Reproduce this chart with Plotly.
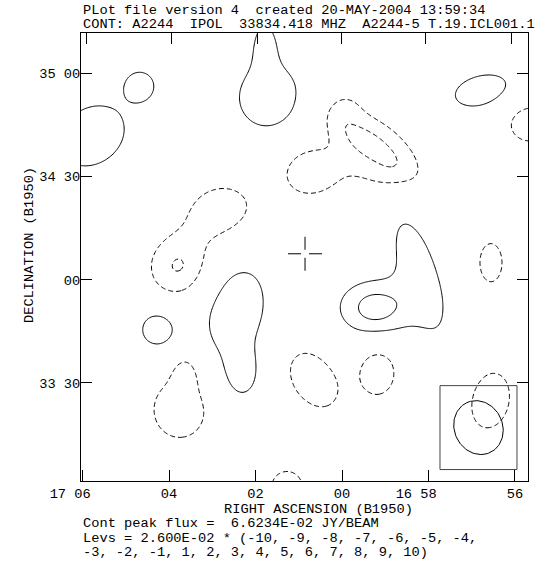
import numpy as np
import plotly.graph_objects as go

# ---------------- data ----------------
# Map axes: RA in seconds of time after 17h00m00s, Dec in arcsec after +34d00m00s (B1950)
RA_SCALE = 12.56          # sky arcsec per second of RA at this declination

# Gaussian components of the intensity model
comp_ra   = [5.780, 4.671, 1.642, 1.780, -3.191, -4.347,
             -0.694, -0.578, -0.023, 0.855, -1.110,
             2.821, 3.792, 4.277, 2.451, 2.312, 3.746, 3.607, 0.671, -0.832,
             -3.445, 1.272, -3.422, -0.763, -1.711]
comp_dec  = [41.82, 56.35, 52.86, 69.71, 54.89, 45.31,
             38.92, 36.60, 49.96, 31.37, 29.63,
             19.46, 3.49, -14.52, -9.29, -27.59, -37.76, -26.72, -29.04, -27.01,
             4.94, -60.12, -35.14, -8.13, 4.65]
comp_amp  = [0.050, 0.045, 0.0429, 0.028, 0.0429, -0.0429,
             -0.042, -0.030, -0.016, -0.032, -0.015,
             -0.040, -0.0525, 0.0429, 0.0429, 0.035, -0.0429, -0.028, -0.0429, -0.0429,
             -0.0429, -0.0429, -0.0429, 0.064, 0.042]
comp_smaj = [8.71, 3.63, 9.29, 5.81, 8.13, 5.52,
             9.58, 13.94, 3.78, 5.23, 4.36,
             9.29, 6.39, 4.36, 12.78, 5.23, 8.13, 4.07, 8.71, 6.10,
             5.52, 4.36, 8.13, 7.55, 18.0]
comp_smin = [6.97, 3.63, 9.29, 3.19, 4.36, 4.94,
             3.48, 13.94, 3.78, 5.23, 4.36,
             7.55, 6.39, 4.21, 7.84, 3.48, 7.55, 2.90, 5.81, 4.65,
             3.19, 4.36, 5.52, 5.81, 5.10]
comp_ang  = [36, 0, 90, 90, 15, 0,
             -35, 0, 0, 0, 0,
             20, 0, 90, 80, 90, 90, 90, -55, 90,
             90, 0, 78, 0, -72]

lev_base = 2.600E-02
lev_mult = [-10, -9, -8, -7, -6, -5, -4, -3, -2, -1, 1, 2, 3, 4, 5, 6, 7, 8, 9, 10]

ra_ticks      = [6, 4, 2, 0, -2, -4]
ra_ticks_top  = [5.919, 3.954, 1.965, 0.023, -1.942, -3.908]
ra_ticktext   = ["17 06", "04", "02", "00", "16 58", "56"]
dec_ticks     = [60, 30, 0, -30]
dec_ticktext  = ["35 00", "34 30", "00", "33 30"]

x_range = [6.035, -4.301]
y_range = [-58.52, 71.74]

cross_ra, cross_dec = 0.855, 7.55
cross_arm, cross_gap = 4.94, 1.16      # arcsec

beam_ra, beam_dec = -3.156, -42.99
beam_maj, beam_min, beam_pa = 16.0, 14.0, 25.0   # arcsec FWHM, deg (E of N)
box_half_w, box_half_h = 11.18, 12.2              # arcsec

title1 = "PLot file version 4  created 20-MAY-2004 13:59:34"
title2 = "CONT: A2244  IPOL  33834.418 MHZ  A2244-5 T.19.ICL001.1"
xlab = "RIGHT ASCENSION (B1950)"
ylab = "DECLINATION (B1950)"
foot1 = "Cont peak flux =  6.6234E-02 JY/BEAM"
foot2 = "Levs = 2.600E-02 * (-10, -9, -8, -7, -6, -5, -4,"
foot3 = "-3, -2, -1, 1, 2, 3, 4, 5, 6, 7, 8, 9, 10)"

# ---------------- model field ----------------
ra_grid = np.linspace(-5.0, 6.6, 480)
dec_grid = np.linspace(-68, 82, 480)
RA, DEC = np.meshgrid(ra_grid, dec_grid)
Z = np.zeros_like(RA)
for r0, d0, A, sa, sb, ang in zip(comp_ra, comp_dec, comp_amp, comp_smaj, comp_smin, comp_ang):
    u = -(RA - r0) * RA_SCALE
    v = DEC - d0
    t = np.radians(ang)
    a = u * np.cos(t) + v * np.sin(t)
    b = -u * np.sin(t) + v * np.cos(t)
    Z += A * np.exp(-0.5 * ((a / sa) ** 2 + (b / sb) ** 2))

pos = [m * lev_base for m in lev_mult if m > 0]
neg = [m * lev_base for m in lev_mult if m < 0]

FONT = "Liberation Mono, Courier New, monospace"
FS = 13.7

fig = go.Figure()
fig.add_trace(go.Contour(
    x=ra_grid, y=dec_grid, z=Z, autocontour=False, showscale=False,
    contours=dict(start=min(pos), end=max(pos) + 1e-6, size=lev_base, coloring="none"),
    line=dict(color="black", width=1), hoverinfo="skip"))
fig.add_trace(go.Contour(
    x=ra_grid, y=dec_grid, z=Z, autocontour=False, showscale=False,
    contours=dict(start=min(neg), end=max(neg) + 1e-6, size=lev_base, coloring="none"),
    line=dict(color="black", width=1, dash="5px,3px"), hoverinfo="skip"))

# cross marker
cx = [cross_ra + cross_arm / RA_SCALE, cross_ra + cross_gap / RA_SCALE, None,
      cross_ra - cross_gap / RA_SCALE, cross_ra - cross_arm / RA_SCALE, None,
      cross_ra, cross_ra, None, cross_ra, cross_ra]
cy = [cross_dec, cross_dec, None, cross_dec, cross_dec, None,
      cross_dec + cross_arm, cross_dec + cross_gap, None,
      cross_dec - cross_gap, cross_dec - cross_arm]
fig.add_trace(go.Scatter(x=cx, y=cy, mode="lines", line=dict(color="black", width=1),
                         hoverinfo="skip"))

# beam ellipse
tt = np.linspace(0, 2 * np.pi, 120)
pa = np.radians(beam_pa)
ma, mi = beam_maj / 2, beam_min / 2
eu = ma * np.cos(tt) * (-np.sin(pa)) + mi * np.sin(tt) * (-np.cos(pa))
ev = ma * np.cos(tt) * np.cos(pa) + mi * np.sin(tt) * (-np.sin(pa))
fig.add_trace(go.Scatter(x=beam_ra - eu / RA_SCALE, y=beam_dec + ev, mode="lines",
                         line=dict(color="black", width=1), hoverinfo="skip"))
fig.add_shape(type="rect", xref="x", yref="y",
              x0=beam_ra + box_half_w / RA_SCALE, x1=beam_ra - box_half_w / RA_SCALE,
              y0=beam_dec - box_half_h, y1=beam_dec + box_half_h,
              line=dict(color="#444", width=1))

# dummy trace for the top axis
fig.add_trace(go.Scatter(x=[ra_ticks_top[0]], y=[0], xaxis="x2", mode="markers",
                         marker=dict(opacity=0), hoverinfo="skip"))

padded = [t.replace(" ", "\u00a0") + "\u00a0" * 3 if " " in t else t for t in ra_ticktext]

fig.update_layout(
    width=539, height=561,
    margin=dict(l=81, r=11, t=33, b=80),
    paper_bgcolor="white", plot_bgcolor="white", showlegend=False,
    font=dict(family=FONT, size=FS, color="black"),
    xaxis=dict(range=x_range, showline=True, linecolor="black", linewidth=1,
               ticks="inside", ticklen=11, tickcolor="black", tickwidth=1,
               tickvals=ra_ticks, ticktext=padded, showgrid=False, zeroline=False,
               tickfont=dict(family=FONT, size=FS, color="black")),
    xaxis2=dict(range=x_range, overlaying="x", side="top", showline=True,
                linecolor="black", linewidth=1, ticks="inside", ticklen=11,
                tickcolor="black", tickvals=ra_ticks_top, showticklabels=False,
                showgrid=False, zeroline=False),
    yaxis=dict(range=y_range, showline=True, linecolor="black", linewidth=1,
               mirror="ticks", ticks="inside", ticklen=11, tickcolor="black",
               tickvals=dec_ticks, ticktext=[t.replace(" ", "\u00a0") for t in dec_ticktext],
               showgrid=False, zeroline=False, ticklabelstandoff=-3,
               tickfont=dict(family=FONT, size=FS, color="black")),
)

def px2paper_x(px):
    return (px - 81) / 447.0

def py2paper_y(py):
    return (481 - py) / 448.0

nb = lambda s: s.replace(" ", "\u00a0")
ann = [
    dict(text=nb(title1), x=px2paper_x(81), y=py2paper_y(10.5), xanchor="left", yanchor="middle"),
    dict(text=nb(title2), x=px2paper_x(81), y=py2paper_y(24.5), xanchor="left", yanchor="middle"),
    dict(text=nb(xlab), x=px2paper_x(318), y=py2paper_y(509), xanchor="center", yanchor="middle"),
    dict(text=nb(foot1), x=px2paper_x(81), y=py2paper_y(523.6), xanchor="left", yanchor="middle"),
    dict(text=nb(foot2), x=px2paper_x(81), y=py2paper_y(538.8), xanchor="left", yanchor="middle"),
    dict(text=nb(foot3), x=px2paper_x(81), y=py2paper_y(552.5), xanchor="left", yanchor="middle"),
    dict(text=nb(ylab), x=px2paper_x(29), y=py2paper_y(245), xanchor="center", yanchor="middle",
         textangle=-90),
]
for a in ann:
    a.update(xref="paper", yref="paper", showarrow=False,
             font=dict(family=FONT, size=FS, color="black"))
fig.update_layout(annotations=ann)

fig.write_html("out.html")
